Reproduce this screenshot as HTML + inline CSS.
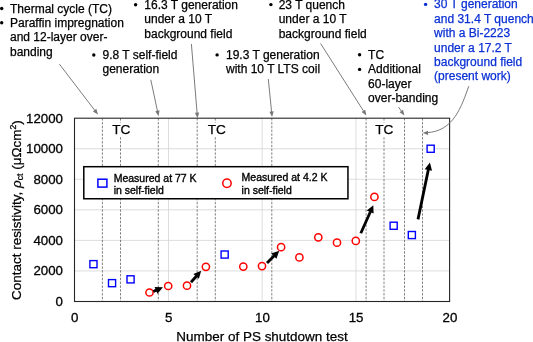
<!DOCTYPE html>
<html><head><meta charset="utf-8"><title>chart</title>
<style>
html,body{margin:0;padding:0;background:#fff;}
body{width:533px;height:342px;overflow:hidden;}
svg{display:block;will-change:transform;font-family:"Liberation Sans",sans-serif;}
.t{font-size:12px;fill:#000;stroke:#000;stroke-width:0.25;}
.b{fill:#0a30d4;stroke:#0a30d4;}
.ax{font-size:13.3px;fill:#000;stroke:#000;stroke-width:0.3;}
.ti{font-size:13.4px;fill:#000;stroke:#000;stroke-width:0.25;}
.lg{font-size:10.5px;fill:#000;stroke:#000;stroke-width:0.35;}
.ld{stroke:#747474;stroke-width:0.95;fill:none;}
.ah{fill:#777;stroke:none;}
.sq{fill:#fff;stroke:#0000ff;stroke-width:1.4;}
.ci{fill:#fff;stroke:#ff0000;stroke-width:1.5;}
.ar{stroke:#000;stroke-width:2.8;fill:none;}
.arh{fill:#000;}
</style></head><body>
<svg width="533" height="342" viewBox="0 0 533 342">
<rect x="0" y="0" width="533" height="342" fill="#fff"/>
<g stroke="#d4d4d4" stroke-width="0.8" fill="none">
<line x1="74.5" y1="270.95" x2="449.6" y2="270.95"/>
<line x1="74.5" y1="240.40" x2="449.6" y2="240.40"/>
<line x1="74.5" y1="209.85" x2="449.6" y2="209.85"/>
<line x1="74.5" y1="179.30" x2="449.6" y2="179.30"/>
<line x1="74.5" y1="148.75" x2="449.6" y2="148.75"/>
<line x1="168.50" y1="118.2" x2="168.50" y2="301.5"/>
<line x1="262.15" y1="118.2" x2="262.15" y2="301.5"/>
<line x1="355.95" y1="118.2" x2="355.95" y2="301.5"/>
</g>
<g stroke="#5a5a5a" stroke-width="0.75" stroke-dasharray="2.4 1.4" fill="none">
<line x1="102.4" y1="118.2" x2="102.4" y2="301.5"/>
<line x1="120.5" y1="118.2" x2="120.5" y2="301.5"/>
<line x1="158.3" y1="118.2" x2="158.3" y2="301.5"/>
<line x1="197.2" y1="118.2" x2="197.2" y2="301.5"/>
<line x1="215.3" y1="118.2" x2="215.3" y2="301.5"/>
<line x1="271.8" y1="118.2" x2="271.8" y2="301.5"/>
<line x1="366.1" y1="118.2" x2="366.1" y2="301.5"/>
<line x1="384.0" y1="118.2" x2="384.0" y2="301.5"/>
<line x1="404.5" y1="118.2" x2="404.5" y2="301.5"/>
<line x1="422.5" y1="118.2" x2="422.5" y2="301.5"/>
</g>
<rect x="74.5" y="118.2" width="375.1" height="183.3" fill="none" stroke="#262626" stroke-width="1.1"/>
<rect x="111.0" y="122.6" width="20.5" height="14" fill="#fff"/><text x="112.2" y="133.95" style="font-size:13.65px;stroke:#000;stroke-width:0.25">TC</text>
<rect x="206.5" y="122.6" width="20.5" height="14" fill="#fff"/><text x="207.7" y="133.95" style="font-size:13.65px;stroke:#000;stroke-width:0.25">TC</text>
<rect x="374.0" y="122.6" width="20.5" height="14" fill="#fff"/><text x="375.2" y="133.95" style="font-size:13.65px;stroke:#000;stroke-width:0.25">TC</text>
<rect x="83.8" y="166.7" width="264.15" height="32.05" fill="#fff" stroke="#000" stroke-width="1.5"/>
<rect class="sq" x="97.9" y="179.2" width="9.0" height="7.9" style="stroke-width:1.5"/>
<text class="lg" x="113.7" y="181.5">Measured at 77 K</text>
<text class="lg" x="113.7" y="193.9">in self-field</text>
<circle class="ci" cx="226.95" cy="183.25" r="4.2" style="stroke-width:1.5"/>
<text class="lg" x="241.6" y="181.4">Measured at 4.2 K</text>
<text class="lg" x="241.6" y="193.9">in self-field</text>
<rect class="sq" x="89.9" y="260.6" width="7.1" height="7.1"/>
<rect class="sq" x="108.5" y="279.6" width="7.1" height="7.1"/>
<rect class="sq" x="127.0" y="275.8" width="7.1" height="7.1"/>
<rect class="sq" x="221.1" y="251.0" width="7.1" height="7.1"/>
<rect class="sq" x="390.1" y="222.2" width="7.1" height="7.1"/>
<rect class="sq" x="408.3" y="231.5" width="7.1" height="7.1"/>
<rect class="sq" x="427.1" y="145.2" width="7.1" height="7.1"/>
<circle class="ci" cx="149.5" cy="292.5" r="3.62"/>
<circle class="ci" cx="168.2" cy="286.0" r="3.62"/>
<circle class="ci" cx="187.0" cy="285.7" r="3.62"/>
<circle class="ci" cx="205.9" cy="266.8" r="3.62"/>
<circle class="ci" cx="243.3" cy="266.6" r="3.62"/>
<circle class="ci" cx="262.0" cy="266.1" r="3.62"/>
<circle class="ci" cx="281.1" cy="247.2" r="3.62"/>
<circle class="ci" cx="299.4" cy="257.4" r="3.62"/>
<circle class="ci" cx="318.3" cy="237.3" r="3.62"/>
<circle class="ci" cx="337.0" cy="242.7" r="3.62"/>
<circle class="ci" cx="355.8" cy="240.9" r="3.62"/>
<circle class="ci" cx="374.4" cy="196.9" r="3.62"/>
<line class="ar" x1="153.4" y1="291.5" x2="156.5" y2="290.1"/><polygon class="arh" points="163.0,287.3 157.5,293.7 154.6,287.0"/>
<line class="ar" x1="191.0" y1="282.2" x2="196.5" y2="276.0"/><polygon class="arh" points="201.2,270.7 198.9,278.8 193.4,273.9"/>
<line class="ar" x1="267.0" y1="263.0" x2="274.2" y2="255.8"/><polygon class="arh" points="279.2,250.8 276.4,258.8 271.2,253.6"/>
<line class="ar" x1="360.8" y1="233.2" x2="370.4" y2="211.7"/><polygon class="arh" points="373.3,205.2 373.6,213.6 366.8,210.6"/>
<line class="ar" x1="418.0" y1="219.4" x2="428.4" y2="169.4"/><polygon class="arh" points="429.9,162.5 432.0,170.7 424.7,169.2"/>
<line class="ld" x1="59.4" y1="64.1" x2="94.9" y2="110.5"/><polygon class="ah" points="98.0,114.5 92.9,111.4 96.3,108.7"/>
<line class="ld" x1="150.8" y1="79.8" x2="157.5" y2="111.3"/><polygon class="ah" points="158.6,116.2 155.3,111.2 159.5,110.3"/>
<line class="ld" x1="191.4" y1="44.0" x2="197.1" y2="113.1"/><polygon class="ah" points="197.5,118.2 194.9,112.8 199.2,112.4"/>
<line class="ld" x1="268.3" y1="79.0" x2="271.6" y2="112.0"/><polygon class="ah" points="272.1,117.1 269.4,111.7 273.7,111.3"/>
<line class="ld" x1="320.6" y1="43.5" x2="363.7" y2="111.3"/><polygon class="ah" points="366.4,115.6 361.6,112.0 365.2,109.7"/>
<line class="ld" x1="398.6" y1="107.1" x2="401.5" y2="111.4"/><polygon class="ah" points="404.4,115.6 399.5,112.2 403.0,109.8"/>
<path class="ld" d="M468.8,86.2 C461.5,106.4 453.6,131.5 426.5,132.7"/>
<polygon class="ah" points="422.7,133.1 427.9,130.7 428.2,134.9"/>
<circle cx="1.7" cy="8.5" r="1.7" fill="#000"/>
<text class="t" x="10.0" y="12.5">Thermal cycle (TC)</text>
<circle cx="1.7" cy="22.8" r="1.7" fill="#000"/>
<text class="t" x="10.0" y="26.8">Paraffin impregnation</text>
<text class="t" x="10.0" y="41.1">and 12-layer over-</text>
<text class="t" x="10.0" y="55.5">banding</text>
<circle cx="93.8" cy="55.0" r="1.7" fill="#000"/>
<text class="t" x="102.5" y="59.0">9.8 T self-field</text>
<text class="t" x="102.5" y="73.1">generation</text>
<circle cx="135.6" cy="4.8" r="1.7" fill="#000"/>
<text class="t" x="144.3" y="8.8">16.3 T generation</text>
<text class="t" x="144.3" y="23.3">under a 10 T</text>
<text class="t" x="144.3" y="37.5">background field</text>
<circle cx="217.1" cy="54.9" r="1.7" fill="#000"/>
<text class="t" x="226.0" y="58.9">19.3 T generation</text>
<text class="t" x="226.0" y="73.4">with 10 T LTS coil</text>
<circle cx="270.9" cy="4.6" r="1.7" fill="#000"/>
<text class="t" x="278.7" y="8.6">23 T quench</text>
<text class="t" x="278.7" y="23.3">under a 10 T</text>
<text class="t" x="278.7" y="37.5">background field</text>
<circle cx="359.6" cy="54.7" r="1.7" fill="#000"/>
<text class="t" x="368.1" y="58.7">TC</text>
<circle cx="359.6" cy="69.4" r="1.7" fill="#000"/>
<text class="t" x="368.1" y="73.4">Additional</text>
<text class="t" x="368.1" y="88.0">60-layer</text>
<text class="t" x="368.1" y="102.3">over-banding</text>
<circle cx="425.6" cy="4.4" r="1.7" fill="#0a30d4"/>
<text class="t b" x="434.1" y="8.4">30 T generation</text>
<text class="t b" x="434.1" y="22.8">and 31.4 T quench</text>
<text class="t b" x="434.1" y="37.1">with a Bi-2223</text>
<text class="t b" x="434.1" y="51.5">under a 17.2 T</text>
<text class="t b" x="434.1" y="65.8">background field</text>
<text class="t b" x="434.1" y="80.1">(present work)</text>
<text class="ax" text-anchor="end" x="63.0" y="306.0">0</text>
<text class="ax" text-anchor="end" x="63.0" y="275.4">2000</text>
<text class="ax" text-anchor="end" x="63.0" y="244.9">4000</text>
<text class="ax" text-anchor="end" x="63.0" y="214.3">6000</text>
<text class="ax" text-anchor="end" x="63.0" y="183.8">8000</text>
<text class="ax" text-anchor="end" x="63.0" y="153.2">10000</text>
<text class="ax" text-anchor="end" x="63.0" y="122.7">12000</text>
<text class="ax" text-anchor="middle" x="74.8" y="322.0">0</text>
<text class="ax" text-anchor="middle" x="168.6" y="322.0">5</text>
<text class="ax" text-anchor="middle" x="262.4" y="322.0">10</text>
<text class="ax" text-anchor="middle" x="356.1" y="322.0">15</text>
<text class="ax" text-anchor="middle" x="449.9" y="322.0">20</text>
<text class="ti" style="font-size:13.48px" x="176.3" y="341.3">Number of PS shutdown test</text>
<text class="ti" style="font-size:13.48px" transform="translate(20.6,300.0) rotate(-90)">Contact resistivity, <tspan font-style="italic">ρ</tspan><tspan font-size="8.7px" dy="2.6">ct</tspan><tspan dy="-2.6"> (μΩcm</tspan><tspan font-size="8.7px" dy="-4.6">2</tspan><tspan dy="4.6">)</tspan></text>
</svg>
</body></html>
